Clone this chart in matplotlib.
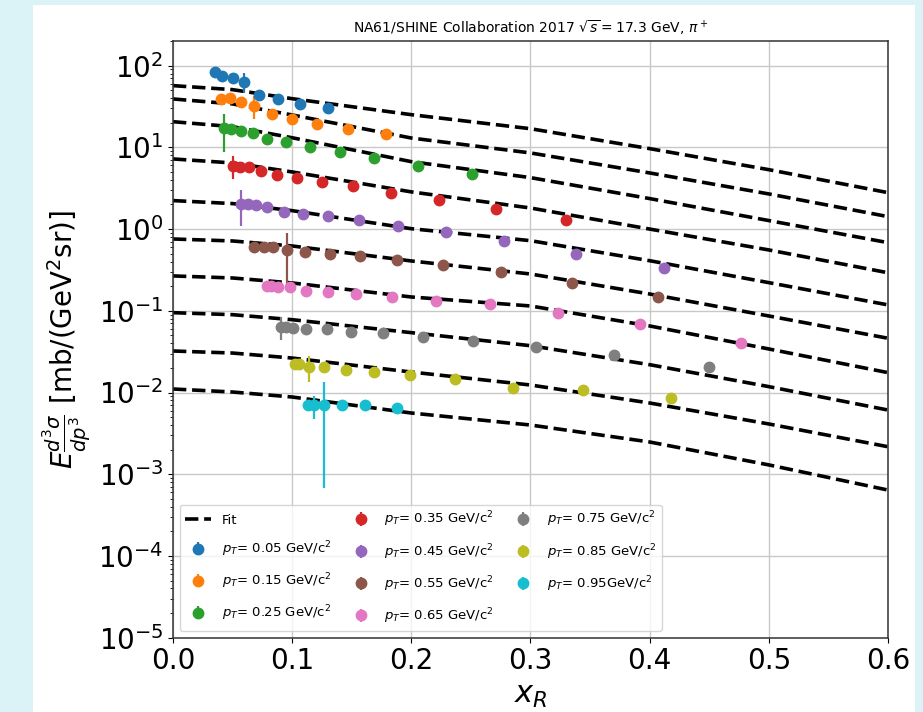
"""
NA61/SHINE 2017 pi+ invariant cross sections vs x_R, one series per pT bin,
with the fitted curves drawn as dashed lines.
"""
import numpy as np
import matplotlib
matplotlib.use('Agg')
import matplotlib.pyplot as plt
from matplotlib.patches import Rectangle


# pT bin labels (legend text)
pt_labels = [
    r'$p_T$= 0.05 GeV/c$^2$', r'$p_T$= 0.15 GeV/c$^2$', r'$p_T$= 0.25 GeV/c$^2$',
    r'$p_T$= 0.35 GeV/c$^2$', r'$p_T$= 0.45 GeV/c$^2$', r'$p_T$= 0.55 GeV/c$^2$',
    r'$p_T$= 0.65 GeV/c$^2$', r'$p_T$= 0.75 GeV/c$^2$', r'$p_T$= 0.85 GeV/c$^2$',
    r'$p_T$= 0.95GeV/c$^2$',
]

# Measured points (x_R, E d3sigma/dp3, error)
x_005 = [0.035, 0.041, 0.050, 0.060, 0.072, 0.088, 0.107, 0.130]
y_005 = [84.5, 74.8, 71.3, 63.7, 43.8, 38.8, 33.7, 30.1]
e_005 = [0, 0, 0, 17.5, 0, 0, 0, 0]

x_015 = [0.040, 0.048, 0.057, 0.068, 0.083, 0.100, 0.121, 0.147, 0.179]
y_015 = [38.8, 40.6, 35.6, 32.4, 25.6, 22.1, 19.3, 16.8, 14.5]
e_015 = [0, 0, 0, 10.0, 0, 0, 0, 0, 0]

x_025 = [0.043, 0.049, 0.057, 0.067, 0.079, 0.095, 0.115, 0.140, 0.169, 0.206, 0.251]
y_025 = [17.1, 16.8, 15.7, 14.9, 12.7, 11.5, 10.0, 8.71, 7.42, 5.92, 4.68]
e_025 = [8.3, 0, 0, 0, 0, 0, 0, 0, 0, 0, 0]

x_035 = [0.050, 0.056, 0.064, 0.074, 0.087, 0.104, 0.125, 0.151, 0.183, 0.223, 0.271, 0.330]
y_035 = [5.97, 5.80, 5.71, 5.14, 4.63, 4.26, 3.80, 3.37, 2.79, 2.29, 1.78, 1.29]
e_035 = [1.9, 0, 0, 0, 0, 0, 0, 0, 0, 0, 0, 0]

x_045 = [0.057, 0.063, 0.070, 0.079, 0.093, 0.109, 0.130, 0.156, 0.189, 0.229, 0.278,
         0.338, 0.412]
y_045 = [2.03, 2.03, 1.96, 1.88, 1.61, 1.54, 1.44, 1.29, 1.08, 0.922, 0.715, 0.496, 0.334]
e_045 = [0.95, 0, 0, 0, 0, 0, 0, 0, 0, 0, 0, 0, 0]

x_055 = [0.068, 0.076, 0.084, 0.096, 0.111, 0.132, 0.157, 0.188, 0.227, 0.275, 0.335, 0.407]
y_055 = [0.609, 0.609, 0.599, 0.555, 0.520, 0.496, 0.469, 0.422, 0.364, 0.296, 0.217, 0.146]
e_055 = [0, 0, 0, 0.35, 0, 0, 0, 0, 0, 0, 0, 0]

x_065 = [0.079, 0.082, 0.088, 0.098, 0.112, 0.130, 0.154, 0.184, 0.221, 0.266, 0.323,
         0.392, 0.477]
y_065 = [0.201, 0.201, 0.197, 0.196, 0.176, 0.170, 0.162, 0.149, 0.133, 0.120, 0.0948,
         0.0689, 0.0407]
e_065 = [0.02, 0, 0, 0.015, 0, 0, 0, 0, 0, 0, 0, 0, 0]

x_075 = [0.091, 0.095, 0.101, 0.112, 0.129, 0.149, 0.176, 0.210, 0.252, 0.305, 0.370, 0.450]
y_075 = [0.0639, 0.0639, 0.0621, 0.0604, 0.0599, 0.0555, 0.0540, 0.0478, 0.0427, 0.0364,
         0.0290, 0.0205]
e_075 = [0.02, 0, 0, 0, 0, 0, 0, 0, 0, 0, 0, 0]

x_085 = [0.102, 0.106, 0.114, 0.127, 0.145, 0.169, 0.199, 0.237, 0.285, 0.344, 0.418]
y_085 = [0.0221, 0.0223, 0.0207, 0.0203, 0.0189, 0.0177, 0.0165, 0.0145, 0.0115, 0.0107,
         0.00864]
e_085 = [0, 0, 0.0074, 0, 0, 0, 0, 0, 0, 0, 0]

x_095 = [0.113, 0.118, 0.127, 0.142, 0.161, 0.188]
y_095 = [0.00697, 0.00697, 0.00697, 0.00709, 0.00703, 0.00652]
e_095 = [0.0008, 0.0022, 0.0063, 0, 0, 0]

fit_x = [0.0, 0.05, 0.1, 0.2, 0.3, 0.4, 0.5, 0.6]
fit_005 = [56.9, 50.8, 39.4, 25.1, 16.9, 9.64, 5.33, 2.79]
fit_015 = [39.1, 34.0, 24.9, 13.0, 8.54, 4.86, 2.69, 1.42]
fit_025 = [20.6, 17.9, 13.1, 6.68, 4.26, 2.36, 1.27, 0.682]
fit_035 = [7.21, 6.44, 5.00, 2.85, 1.81, 1.00, 0.555, 0.292]
fit_045 = [2.23, 2.05, 1.68, 1.01, 0.721, 0.410, 0.221, 0.118]
fit_055 = [0.756, 0.715, 0.621, 0.407, 0.282, 0.1605, 0.0864, 0.0461]
fit_065 = [0.267, 0.252, 0.219, 0.1475, 0.1145, 0.0652, 0.0341, 0.0175]
fit_075 = [0.0948, 0.0896, 0.0778, 0.0540, 0.0374, 0.0219, 0.0118, 0.0061]
fit_085 = [0.0322, 0.0304, 0.0264, 0.0178, 0.01235, 0.00744, 0.00412, 0.00217]
fit_095 = [0.01104, 0.01014, 0.00881, 0.00561, 0.0040, 0.00248, 0.0013, 0.00064]

series = [
    (x_005, y_005, e_005), (x_015, y_015, e_015), (x_025, y_025, e_025),
    (x_035, y_035, e_035), (x_045, y_045, e_045), (x_055, y_055, e_055),
    (x_065, y_065, e_065), (x_075, y_075, e_075), (x_085, y_085, e_085),
    (x_095, y_095, e_095),
]
fits = [fit_005, fit_015, fit_025, fit_035, fit_045,
        fit_055, fit_065, fit_075, fit_085, fit_095]

fig = plt.figure(figsize=(9.23, 7.12), dpi=100)
fig.patch.set_facecolor('#dbf3f7')
# white page area of the screenshot
fig.add_artist(Rectangle((33 / 923, 0), 882 / 923, 707 / 712,
                         transform=fig.transFigure, facecolor='white',
                         edgecolor='none', zorder=-10))

ax = fig.add_axes([0.1874, 0.1044, 0.7747, 0.838])
ax.set_yscale('log')

fit_handle = None
for f in fits:
    fit_handle, = ax.plot(fit_x, f, '--', color='black', lw=2.6, zorder=2)

handles = [fit_handle]
for i, (xs, ys, es) in enumerate(series):
    h = ax.errorbar(xs, ys, yerr=es, fmt='o', ms=7.5, color=f'C{i}',
                    elinewidth=1.6, capsize=0, zorder=3)
    handles.append(h)

ax.set_xlim(0, 0.6)
ax.set_ylim(1e-5, 200)
ax.grid(True, which='major', color='#c8c8c8', lw=1.0)
ax.set_axisbelow(True)
for sp in ax.spines.values():
    sp.set_color('#333333')
    sp.set_linewidth(1.1)

ax.tick_params(axis='both', which='major', labelsize=20)
ax.set_xlabel(r'$x_R$', fontsize=22)
ax.set_ylabel(r'$E\frac{d^3\sigma}{dp^3}$ [mb/(GeV$^2$sr)]', fontsize=20)
ax.set_title(r'NA61/SHINE Collaboration 2017 $\sqrt{s} = 17.3$ GeV, $\pi^+$', fontsize=10)

ax.legend(handles, ['Fit'] + pt_labels, ncol=3, loc='lower left', fontsize=9.5,
          framealpha=0.8, columnspacing=1.2, labelspacing=0.95)

plt.savefig('out.png', dpi=100, facecolor=fig.get_facecolor())
plt.close()
